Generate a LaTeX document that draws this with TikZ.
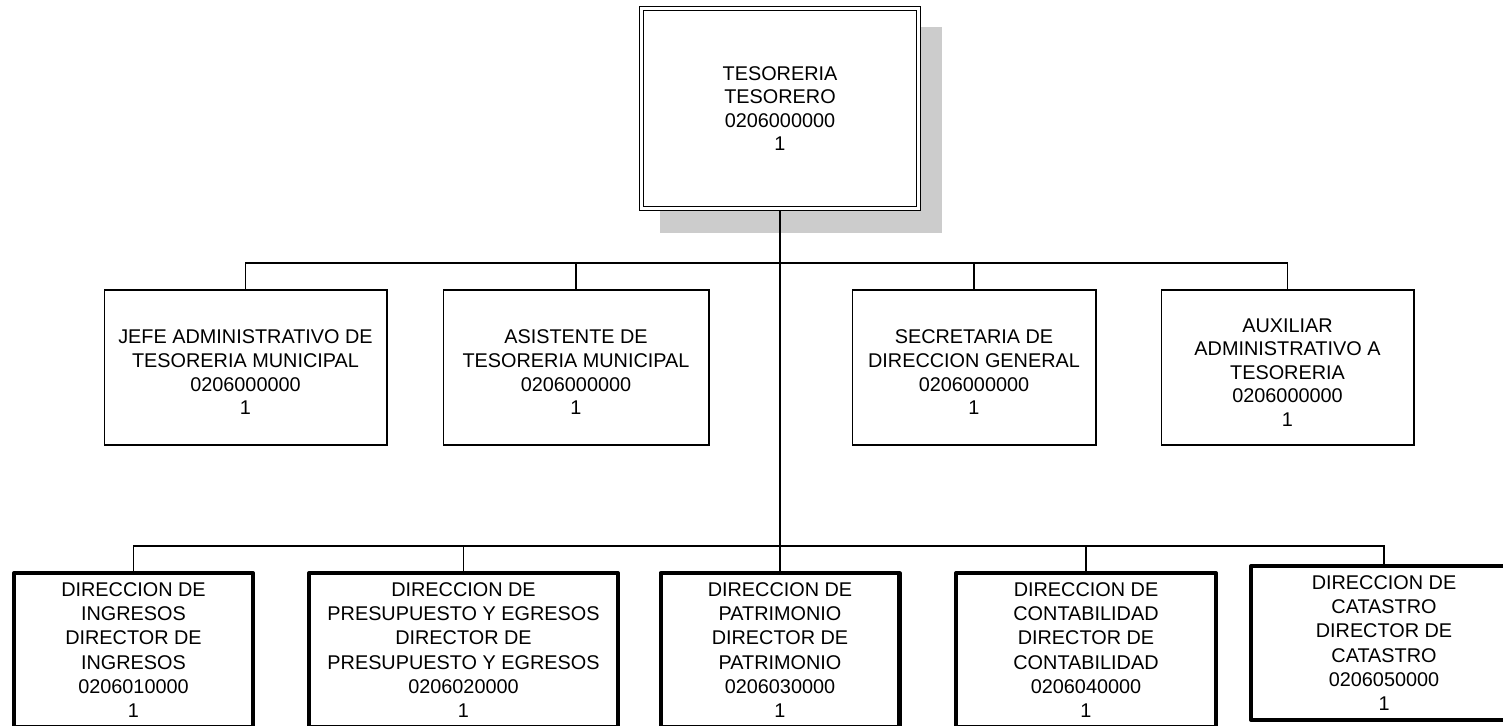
\documentclass[tikz,border=0pt]{standalone}
\usepackage{fontspec}
\setmainfont{Liberation Sans}
\usetikzlibrary{positioning}
\definecolor{orgShade}{RGB}{204,204,204}
\definecolor{orgInk}{RGB}{0,0,0}
\tikzset{
  orgbody/.style={font=\fontsize{11.3}{13.4}\selectfont, text=orgInk,
    align=center, inner sep=0pt},
  orglink/.style={draw=orgInk, line width=.6pt}
}

\begin{document}
\begin{tikzpicture}[x=0.02cm, y=-0.02cm,
  headbox/.style={orgbody, draw=orgInk, fill=white, double=white,
    double distance=1.6pt, line width=.7pt, outer sep=1.5pt,
    minimum width=5.55cm, minimum height=4.01cm},
  staffbox/.style={orgbody, draw=orgInk, fill=white, line width=.6pt,
    minimum height=3.10cm},
  dirbox/.style={orgbody, font=\fontsize{11.3}{13.8}\selectfont,
    draw=orgInk, fill=white, line width=2.3pt,
    line join=round, minimum height=3.08cm}
]
\path[use as bounding box] (0,0) rectangle (1503,726);
\clip (0,0) rectangle (1503,726);

% head of the office, with its shadow
\fill[orgShade] (660,27) rectangle (942,233);
\node[headbox] (tes) at (780,108.5) {TESORERIA\\TESORERO\\0206000000\\1};

% staff row
\node[staffbox, minimum width=5.66cm] (jefe) at (245.5,367.5)
  {\mbox{}\\JEFE ADMINISTRATIVO DE\\TESORERIA MUNICIPAL\\0206000000\\1};
\node[staffbox, minimum width=5.32cm] (asis) at (576,367.5)
  {\mbox{}\\ASISTENTE DE\\TESORERIA MUNICIPAL\\0206000000\\1};
\node[staffbox, minimum width=4.88cm] (secr) at (974,367.5)
  {\mbox{}\\SECRETARIA DE\\DIRECCION GENERAL\\0206000000\\1};
\node[staffbox, minimum width=5.06cm] (auxi) at (1287.5,367.5)
  {\mbox{}\\AUXILIAR\\ADMINISTRATIVO A\\TESORERIA\\0206000000\\1};

% directions row
\node[dirbox, minimum width=4.78cm] (ding) at (133.5,650)
  {DIRECCION DE\\INGRESOS\\DIRECTOR DE\\INGRESOS\\0206010000\\1};
\node[dirbox, minimum width=6.18cm] (dpre) at (463.5,650)
  {DIRECCION DE\\PRESUPUESTO Y EGRESOS\\DIRECTOR DE\\PRESUPUESTO Y EGRESOS\\0206020000\\1};
\node[dirbox, minimum width=4.78cm] (dpat) at (780,650)
  {DIRECCION DE\\PATRIMONIO\\DIRECTOR DE\\PATRIMONIO\\0206030000\\1};
\node[dirbox, minimum width=5.20cm] (dcon) at (1086,650)
  {DIRECCION DE\\CONTABILIDAD\\DIRECTOR DE\\CONTABILIDAD\\0206040000\\1};
\node[dirbox, minimum width=5.32cm] (dcat) at (1384,643)
  {DIRECCION DE\\CATASTRO\\DIRECTOR DE\\CATASTRO\\0206050000\\1};

% connectors
\coordinate (midbus) at (780,263);
\coordinate (lowbus) at (780,546);
\draw[orglink] (tes.south) -- (dpat.north);
\foreach \n in {jefe,asis,secr,auxi}
  \draw[orglink] (midbus) -| (\n.north);
\foreach \n in {ding,dpre,dcon,dcat}
  \draw[orglink] (lowbus) -| (\n.north);
\end{tikzpicture}
\end{document}
